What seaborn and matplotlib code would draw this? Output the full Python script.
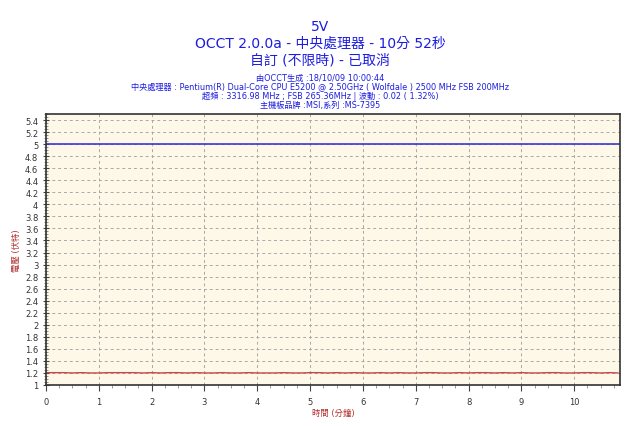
import matplotlib
matplotlib.use("Agg")
import matplotlib.pyplot as plt
from matplotlib.ticker import MultipleLocator
import seaborn as sns
import pandas as pd

sns.set_theme(style="white")
plt.rcParams['font.family'] = ['DejaVu Sans', 'Noto Sans CJK TC']

# ---- data ----
ref_x = [0.0, 10.867]
ref_y = [5.0, 5.0]
time_min = [i / 6 for i in range(66)]
volts = [1.205, 1.205, 1.205, 1.20, 1.205, 1.20, 1.20, 1.205, 1.205, 1.205,
         1.205, 1.20, 1.205, 1.20, 1.205, 1.205, 1.20, 1.205, 1.20, 1.20,
         1.205, 1.20, 1.20, 1.205, 1.20, 1.20, 1.20, 1.205, 1.20, 1.20,
         1.205, 1.205, 1.20, 1.205, 1.20, 1.205, 1.20, 1.20, 1.205, 1.20,
         1.205, 1.20, 1.20, 1.205, 1.205, 1.20, 1.20, 1.205, 1.20, 1.205,
         1.205, 1.20, 1.205, 1.20, 1.205, 1.20, 1.20, 1.205, 1.205, 1.20,
         1.20, 1.205, 1.205, 1.20, 1.205, 1.20]
xticks = list(range(0, 11))
yticks = [round(1 + 0.2 * i, 1) for i in range(23)]
ytick_labels = ['1', '1.2', '1.4', '1.6', '1.8', '2', '2.2', '2.4', '2.6', '2.8', '3',
                '3.2', '3.4', '3.6', '3.8', '4', '4.2', '4.4', '4.6', '4.8', '5', '5.2', '5.4']

title_lines = ["5V", "OCCT 2.0.0a - 中央處理器 - 10分 52秒", "自訂 (不限時) - 已取消"]
info_lines = ["由OCCT生成 :18/10/09 10:00:44",
              "中央處理器 : Pentium(R) Dual-Core CPU E5200 @ 2.50GHz ( Wolfdale ) 2500 MHz FSB 200MHz",
              "超頻 : 3316.98 MHz ; FSB 265.36MHz | 波動 : 0.02 ( 1.32%)",
              "主機板品牌 :MSI,系列 :MS-7395"]
xlabel = "時間 (分鐘)"
ylabel = "電壓 (伏特)"

fig = plt.figure(figsize=(6.4, 4.27), dpi=100, facecolor='white')
ax = fig.add_axes([46/640, 41/427, 574/640, 271/427])
ax.set_facecolor('#fef8e8')

df_ref = pd.DataFrame({'t': ref_x, 'v': ref_y})
df = pd.DataFrame({'t': time_min, 'v': volts})
sns.lineplot(data=df_ref, x='t', y='v', ax=ax, color='#3a3ad0', linewidth=1.2)
sns.lineplot(data=df, x='t', y='v', ax=ax, color='#c84848', linewidth=1.0)

ax.set_xlim(0, 10.867)
ax.set_ylim(1, 5.5)
ax.set_xticks(xticks)
ax.set_xticklabels([str(x) for x in xticks])
ax.set_yticks(yticks)
ax.set_yticklabels(ytick_labels)
ax.xaxis.set_minor_locator(MultipleLocator(0.25))
ax.yaxis.set_minor_locator(MultipleLocator(0.05))
ax.tick_params(axis='x', which='major', direction='out', length=4, width=0.8, color='#444444',
               labelsize=6, labelcolor='#333333', pad=5, bottom=True)
ax.tick_params(axis='x', which='minor', direction='out', length=2, width=0.6, color='#888888', bottom=True)
ax.tick_params(axis='y', which='major', direction='inout', length=5, width=0.8, color='#444444',
               labelsize=6, labelcolor='#333333', pad=3, left=True)
ax.tick_params(axis='y', which='minor', direction='inout', length=2.5, width=0.5, color='#666666', left=True)
ax.grid(True, which='major', linestyle=(0, (3, 3)), color='#a8a8a8', linewidth=0.7)
for s in ax.spines.values():
    s.set_color('#333333')
    s.set_linewidth(1.2)
    s.set_visible(True)

ax.set_xlabel(xlabel, fontsize=6, color='#b03030', labelpad=1)
ax.set_ylabel(ylabel, fontsize=6, color='#b03030', labelpad=3)

ys = [400, 383, 367]
for t, y in zip(title_lines, ys):
    fig.text(0.5, y / 427, t, ha='center', va='center', fontsize=10, color='#1c1ce0')
for i, t in enumerate(info_lines):
    fig.text(0.5, (349 - 9 * i) / 427, t, ha='center', va='center', fontsize=5.9, color='#1c1ce0')

fig.savefig('out.png', dpi=100, facecolor='white')
